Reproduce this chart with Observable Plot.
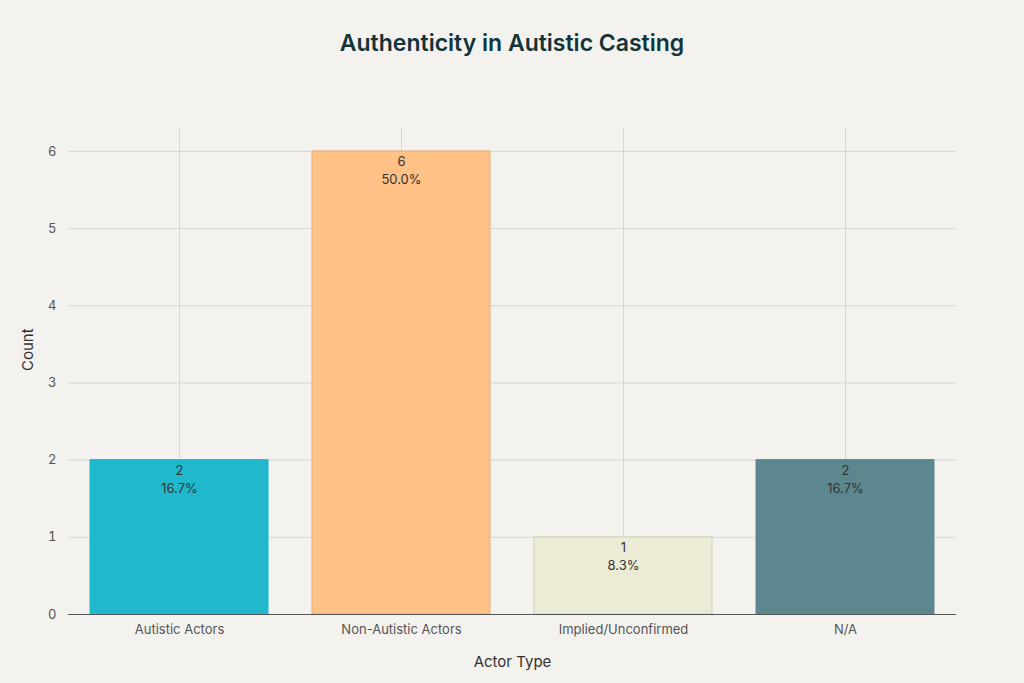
<!DOCTYPE html>
<html><head><meta charset="utf-8">
<script src="https://cdn.jsdelivr.net/npm/d3@7"></script>
<script src="https://cdn.jsdelivr.net/npm/@observablehq/plot@0.6"></script>
<style>
html,body{margin:0;padding:0;background:#F3F2EE;}
#title{height:86px;display:flex;align-items:center;justify-content:center;font-family:Inter,"Liberation Sans",sans-serif;font-weight:600;font-size:23px;color:#13343B;box-sizing:border-box;}
#chart svg{display:block;}
</style></head>
<body>
<div id="title">Authenticity in Autistic Casting</div>
<div id="chart"></div>
<script>
const categories = ["Autistic Actors","Non-Autistic Actors","Implied/Unconfirmed","N/A"];
const counts = [2,6,1,2];
const percents = ["16.7%","50.0%","8.3%","16.7%"];
const colors = ["#1FB8CD","#FFC185","#ECEBD5","#5D878F"];
const strokes = ["#1FB8CD","#E8AD78","#CFCEB8","#5D878F"];
const yTicks = [0,1,2,3,4,5,6];

const data = categories.map((c,i)=>({cat:c,count:counts[i],pct:percents[i],fill:colors[i],stroke:strokes[i],label:`${counts[i]}\n${percents[i]}`}));

const chart = Plot.plot({
  width:1024, height:597,
  marginTop:41, marginBottom:69, marginLeft:68, marginRight:68,
  style:{background:"#F3F2EE",fontFamily:"Inter, 'Liberation Sans', sans-serif",fontSize:"13px",color:"#555"},
  x:{domain:categories, paddingInner:0.2, paddingOuter:0.1, label:null},
  y:{domain:[0,6.31], label:null},
  marks:[
    Plot.gridY(yTicks,{stroke:"#D6D6D2",strokeOpacity:1}),
    Plot.gridX(categories,{stroke:"#D6D6D2",strokeOpacity:1}),
    Plot.barY(data,{x:"cat",y:"count",fill:"fill",stroke:"stroke",strokeWidth:1}),
    Plot.ruleY([0],{stroke:"#555",strokeWidth:1}),
    Plot.text(data,{x:"cat",y:"count",text:"label",dy:18,fill:"#333",fontSize:13,lineHeight:1.4}),
    Plot.axisX({tickSize:0,tickPadding:10,fill:"#555",fontSize:13,label:null}),
    Plot.axisY(yTicks,{tickSize:0,tickPadding:12,fill:"#555",fontSize:13,label:null,tickFormat:d=>String(d)}),
    Plot.text(["Actor Type"],{frameAnchor:"bottom",dy:52,fill:"#333",fontSize:15,text:d=>d}),
    Plot.text(["Count"],{frameAnchor:"left",dx:-40,rotate:-90,fill:"#333",fontSize:15,text:d=>d})
  ]
});
document.getElementById("chart").appendChild(chart);
</script>
</body></html>
